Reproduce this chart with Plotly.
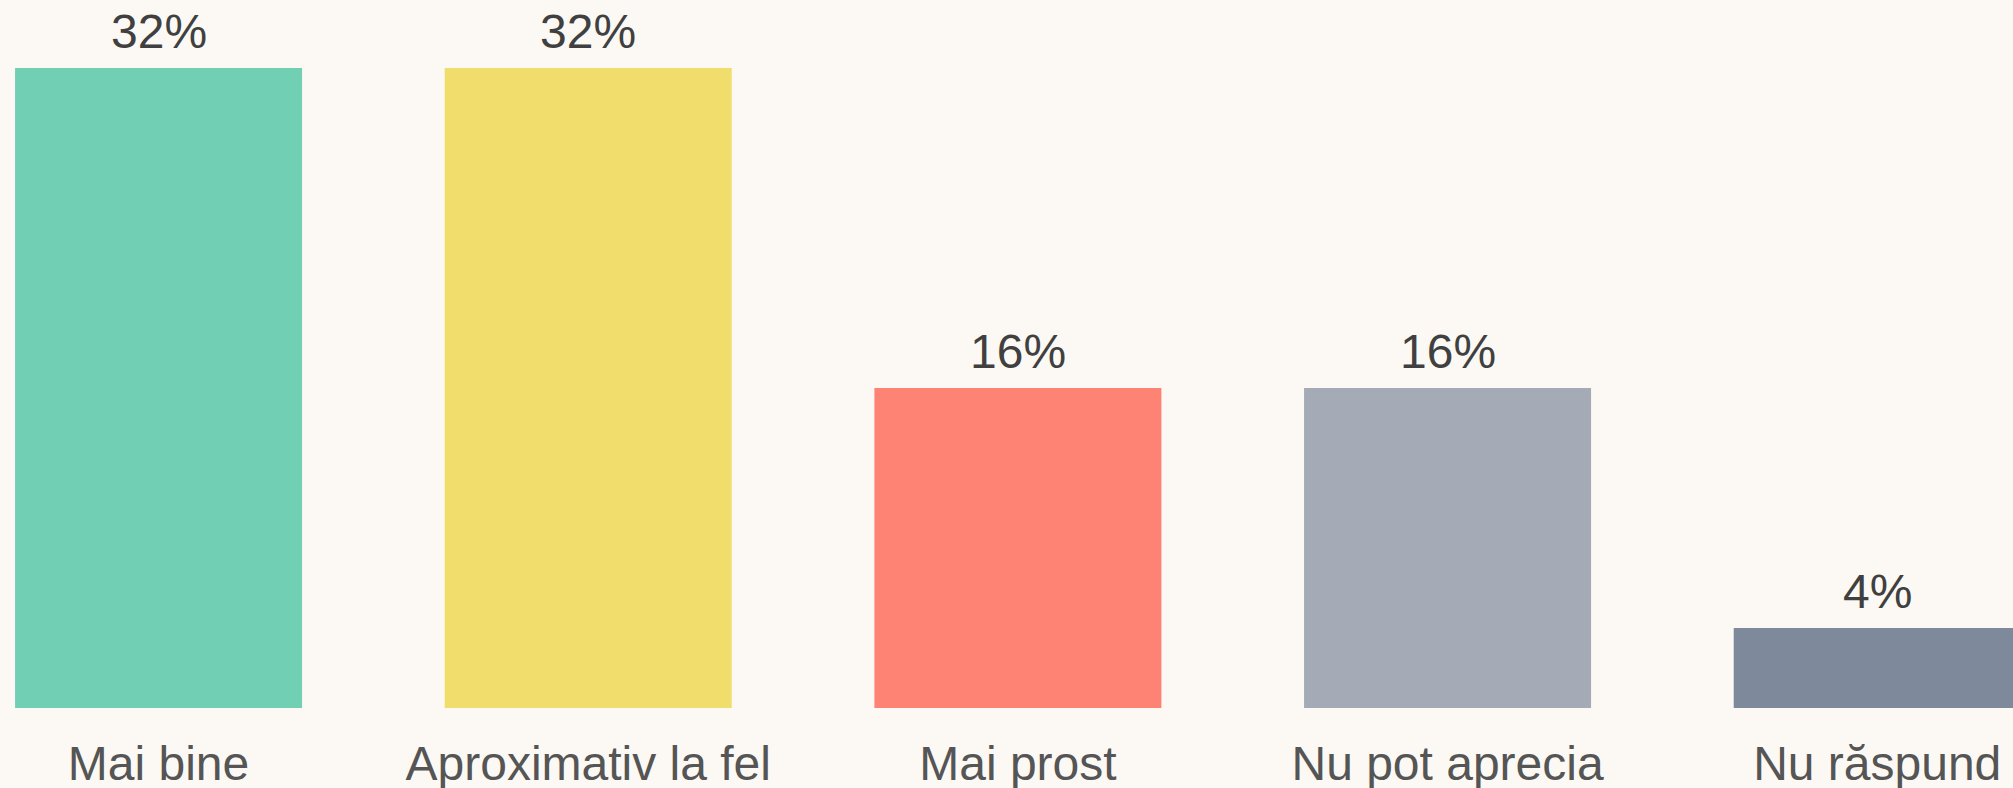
import plotly.graph_objects as go

categories = ["Mai bine", "Aproximativ la fel", "Mai prost", "Nu pot aprecia", "Nu răspund"]
values = [32, 32, 16, 16, 4]
labels = ["32%", "32%", "16%", "16%", "4%"]
colors = ["#71D0B4", "#F0DD6C", "#FF8374", "#A5ABB6", "#7E8A9C"]

fig = go.Figure()
fig.add_trace(go.Bar(
    x=list(range(len(categories))), y=values,
    marker=dict(color=colors, line=dict(width=0)),
    hoverinfo="skip",
))
for i, (v, t) in enumerate(zip(values, labels)):
    fig.add_annotation(x=i, y=v, text=t, showarrow=False, yanchor="bottom",
                       yshift=8, font=dict(size=48, color="#404040",
                                           family="Liberation Sans, Arial"))

fig.update_layout(
    width=2013, height=788,
    margin=dict(l=0, r=0, t=0, b=80, autoexpand=False),
    paper_bgcolor="#FCF9F4", plot_bgcolor="#FCF9F4",
    bargap=0.332,
    showlegend=False,
    xaxis=dict(range=[-0.369, 4.316], tickmode="array", automargin=False,
               tickvals=list(range(len(categories))), ticktext=categories,
               showgrid=False, zeroline=False, showline=False,
               ticks="", ticklabelstandoff=23,
               tickfont=dict(size=48, color="#555555",
                             family="Liberation Sans, Arial")),
    yaxis=dict(range=[0, 35.4], visible=False, showgrid=False, zeroline=False,
               automargin=False),
)
fig.write_html("out.html", config={"displayModeBar": False},
               post_script="document.body.style.margin='0';document.body.style.overflow='hidden';")
